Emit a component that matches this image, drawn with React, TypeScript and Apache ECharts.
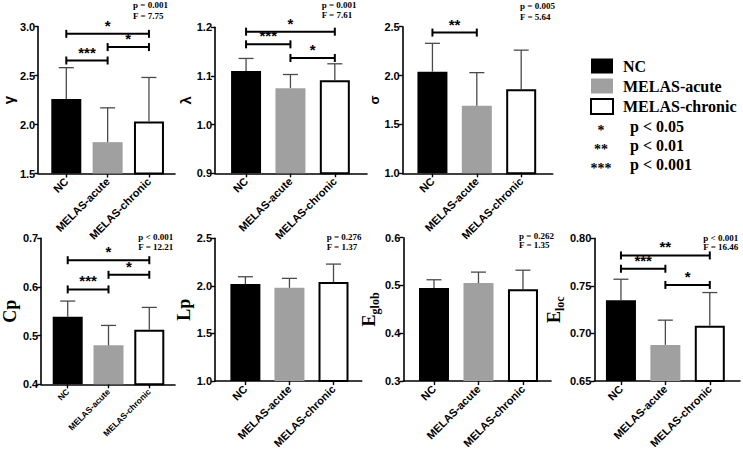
import React, { useEffect, useRef } from 'react';
import * as echarts from 'echarts';

// ---- data ----
const groups = ['NC', 'MELAS-acute', 'MELAS-chronic'];

const gammaMean = [2.26, 1.82, 2.03];
const gammaSD = [0.32, 0.35, 0.45];
const lambdaMean = [1.11, 1.075, 1.091];
const lambdaSD = [0.026, 0.028, 0.034];
const sigmaMean = [2.04, 1.69, 1.86];
const sigmaSD = [0.29, 0.34, 0.4];
const cpMean = [0.539, 0.48, 0.512];
const cpSD = [0.032, 0.041, 0.046];
const lpMean = [2.02, 1.98, 2.04];
const lpSD = [0.076, 0.099, 0.189];
const eglobMean = [0.495, 0.505, 0.492];
const eglobSD = [0.017, 0.023, 0.04];
const elocMean = [0.735, 0.688, 0.708];
const elocSD = [0.022, 0.026, 0.035];

// brackets: [fromGroup, toGroup, yValue, stars]
const gammaSig = [[0, 2, 2.925, '*'], [1, 2, 2.79, '*'], [0, 1, 2.653, '***']];
const lambdaSig = [[0, 2, 1.191, '*'], [0, 1, 1.165, '***'], [1, 2, 1.137, '*']];
const sigmaSig = [[0, 1, 2.44, '**']];
const cpSig = [[0, 2, 0.655, '*'], [1, 2, 0.625, '*'], [0, 1, 0.595, '***']];
const lpSig: any[] = [];
const eglobSig: any[] = [];
const elocSig = [[0, 2, 0.782, '**'], [0, 1, 0.768, '***'], [1, 2, 0.751, '*']];

const yMins = [1.5, 0.9, 1.0, 0.4, 1.0, 0.3, 0.65];
const yMaxs = [3.0, 1.2, 2.5, 0.7, 2.5, 0.6, 0.8];
const ySteps = [0.5, 0.1, 0.5, 0.1, 0.5, 0.1, 0.05];
const yDecimals = [1, 1, 1, 1, 1, 1, 2];

const pTexts = ['p = 0.001', 'p = 0.001', 'p = 0.005', 'p < 0.001', 'p = 0.276', 'p = 0.262', 'p < 0.001'];
const fTexts = ['F = 7.75', 'F = 7.61', 'F = 5.64', 'F = 12.21', 'F = 1.37', 'F = 1.35', 'F = 16.46'];

const sigLegendStars = ['*', '**', '***'];
const sigLegendTexts = ['p < 0.05', 'p < 0.01', 'p < 0.001'];

const means = [gammaMean, lambdaMean, sigmaMean, cpMean, lpMean, eglobMean, elocMean];
const sds = [gammaSD, lambdaSD, sigmaSD, cpSD, lpSD, eglobSD, elocSD];
const sigs = [gammaSig, lambdaSig, sigmaSig, cpSig, lpSig, eglobSig, elocSig];

// ---- layout / style ----
const SANS = '"Liberation Sans", Arial, sans-serif';
const SERIF = '"Liberation Serif", "Times New Roman", serif';

const layout = [
  { left: 28, width: 147, top: 26.5, height: 147, xMin: -0.68, xMax: 2.63, lab: 11, gap: 12, px: 133, py: -1, lh: 11 },
  { left: 215, width: 152, top: 27.3, height: 146, xMin: -0.7, xMax: 2.725, lab: 11, gap: 14, px: 321.7, py: 0, lh: 10 },
  { left: 402.7, width: 150, top: 26.7, height: 146.6, xMin: -0.67, xMax: 2.71, lab: 11, gap: 17, px: 520, py: 0, lh: 11 },
  { left: 29, width: 146, top: 238.3, height: 146, xMin: -0.65, xMax: 2.63, lab: 8.5, gap: 12, px: 138.3, py: 232.5, lh: 9.5 },
  { left: 215, width: 146.7, top: 238.3, height: 146, xMin: -0.69, xMax: 2.64, lab: 11, gap: 13, px: 326.7, py: 232.5, lh: 9.5 },
  { left: 403.3, width: 147.7, top: 237.7, height: 146.6, xMin: -0.69, xMax: 2.63, lab: 11, gap: 16, px: 519, py: 231, lh: 9.5 },
  { left: 594.3, width: 145.7, top: 238.3, height: 146, xMin: -0.6, xMax: 2.68, lab: 11, gap: 22, px: 703.3, py: 233, lh: 9.5 },
];

const yNames = [
  { name: 'γ', style: { fontFamily: SANS, fontWeight: 'bold', fontSize: 15, color: '#000' } },
  { name: 'λ', style: { fontFamily: SANS, fontWeight: 'bold', fontSize: 15, color: '#000' } },
  { name: 'σ', style: { fontFamily: SANS, fontWeight: 'bold', fontSize: 13, color: '#000' } },
  { name: 'Cp', style: { fontFamily: SERIF, fontWeight: 'bold', fontSize: 18, color: '#000' } },
  { name: 'Lp', style: { fontFamily: SERIF, fontWeight: 'bold', fontSize: 18, color: '#000' } },
  { name: '{e|E}{s|glob}', style: null },
  { name: '{e|E}{s|loc}', style: null },
];

const subRich = {
  e: { fontFamily: SERIF, fontWeight: 'bold', fontSize: 18, color: '#000', lineHeight: 24, verticalAlign: 'middle' },
  s: { fontFamily: SERIF, fontWeight: 'bold', fontSize: 12, color: '#000', lineHeight: 12, verticalAlign: 'bottom' },
};

const groupStyles = [
  { color: '#000000', borderColor: '#000000', borderWidth: 0 },
  { color: '#a0a0a0', borderColor: '#a0a0a0', borderWidth: 0 },
  { color: '#ffffff', borderColor: '#000000', borderWidth: 2 },
];

export default function App() {
  const ref = useRef<HTMLDivElement>(null);
  useEffect(() => {
    if (!ref.current) return;
    const chart = echarts.init(ref.current, undefined, { renderer: 'svg' });

    const grid = layout.map((l) => ({ left: l.left, top: l.top, width: l.width, height: l.height }));

    const xAxis = layout.map((l, i) => ({
      gridIndex: i,
      type: 'value',
      min: l.xMin,
      max: l.xMax,
      axisLine: { show: true, onZero: false, lineStyle: { color: '#000', width: 1.6 } },
      axisTick: { show: true, customValues: [0, 1, 2], length: 4, lineStyle: { color: '#000', width: 1.4 } },
      axisLabel: {
        customValues: [0, 1, 2],
        rotate: 45,
        margin: 6,
        formatter: (v: number) => groups[Math.round(v)] ?? '',
        fontFamily: SANS,
        fontWeight: 'bold',
        fontSize: l.lab,
        color: '#000',
      },
      splitLine: { show: false },
    }));

    const yAxis = layout.map((l, i) => ({
      gridIndex: i,
      type: 'value',
      min: yMins[i],
      max: yMaxs[i],
      interval: ySteps[i],
      axisLine: { show: true, onZero: false, lineStyle: { color: '#000', width: 1.6 } },
      axisTick: { show: true, length: 4, lineStyle: { color: '#000', width: 1.4 } },
      axisLabel: {
        margin: 3,
        formatter: (v: number) => v.toFixed(yDecimals[i]),
        fontFamily: SANS,
        fontWeight: 'bold',
        fontSize: 11,
        color: '#000',
      },
      splitLine: { show: false },
      name: yNames[i].name,
      nameLocation: 'middle',
      nameGap: l.gap,
      nameRotate: 90,
      nameTextStyle: yNames[i].style ? yNames[i].style : { rich: subRich },
    }));

    const series: any[] = [];
    layout.forEach((_, i) => {
      groups.forEach((g, gi) => {
        series.push({
          type: 'bar',
          name: g,
          xAxisIndex: i,
          yAxisIndex: i,
          barWidth: 30,
          barGap: '-100%',
          data: [[gi, means[i][gi]]],
          itemStyle: groupStyles[gi],
          emphasis: { disabled: true },
        });
      });
      series.push({
        type: 'custom',
        xAxisIndex: i,
        yAxisIndex: i,
        z: 5,
        data: means[i].map((m, gi) => [gi, m, sds[i][gi]]),
        renderItem: (params: any, api: any) => {
          const x = api.value(0);
          const m = api.value(1);
          const s = api.value(2);
          const p0 = api.coord([x, m]);
          const p1 = api.coord([x, m + s]);
          const st = { stroke: '#4a4a4a', lineWidth: 1.3 };
          return {
            type: 'group',
            children: [
              { type: 'line', shape: { x1: p0[0], y1: p0[1], x2: p1[0], y2: p1[1] }, style: st },
              { type: 'line', shape: { x1: p1[0] - 7.5, y1: p1[1], x2: p1[0] + 7.5, y2: p1[1] }, style: st },
            ],
          };
        },
      });
      if (sigs[i].length) {
        series.push({
          type: 'custom',
          xAxisIndex: i,
          yAxisIndex: i,
          z: 6,
          data: sigs[i].map((b: any) => [b[0], b[1], b[2], b[3]]),
          renderItem: (params: any, api: any) => {
            const b = sigs[i][params.dataIndex] as any[];
            const a = api.coord([b[0], b[2]]);
            const c = api.coord([b[1], b[2]]);
            const st = { stroke: '#000', lineWidth: 2 };
            return {
              type: 'group',
              children: [
                { type: 'line', shape: { x1: a[0], y1: a[1], x2: c[0], y2: c[1] }, style: st },
                { type: 'line', shape: { x1: a[0], y1: a[1] - 4, x2: a[0], y2: a[1] + 4 }, style: st },
                { type: 'line', shape: { x1: c[0], y1: c[1] - 4, x2: c[0], y2: c[1] + 4 }, style: st },
                {
                  type: 'text',
                  x: (a[0] + c[0]) / 2,
                  y: a[1] - 1,
                  style: {
                    text: b[3],
                    fill: '#000',
                    font: `bold 15px ${SANS}`,
                    align: 'center',
                    verticalAlign: 'bottom',
                  },
                },
              ],
            };
          },
        });
      }
    });

    const graphic: any[] = [];
    layout.forEach((l, i) => {
      graphic.push({
        type: 'text',
        x: l.px,
        y: l.py,
        style: {
          text: pTexts[i] + '\n' + fTexts[i],
          fill: '#000',
          font: `bold 9px ${SERIF}`,
          lineHeight: l.lh,
          align: 'left',
          verticalAlign: 'top',
        },
      });
    });
    const legendRows = [126, 145, 164];
    sigLegendStars.forEach((s, k) => {
      graphic.push({
        type: 'text',
        x: 601,
        y: legendRows[k] + 4,
        style: { text: s, fill: '#000', font: `bold 14px ${SERIF}`, align: 'center', verticalAlign: 'middle' },
      });
      graphic.push({
        type: 'text',
        x: 630,
        y: legendRows[k],
        style: { text: sigLegendTexts[k], fill: '#000', font: `bold 16px ${SERIF}`, align: 'left', verticalAlign: 'middle' },
      });
    });

    chart.setOption({
      animation: false,
      backgroundColor: '#ffffff',
      legend: {
        data: groups,
        orient: 'vertical',
        left: 585,
        top: 53,
        itemWidth: 22,
        itemHeight: 15,
        itemGap: 4,
        selectedMode: false,
        icon: 'rect',
        textStyle: { fontFamily: SERIF, fontWeight: 'bold', fontSize: 16, color: '#000', lineHeight: 16, padding: [0, 0, 0, 5] },
      },
      grid,
      xAxis,
      yAxis,
      series,
      graphic,
    });
    return () => chart.dispose();
  }, []);

  return (
    <div
      ref={ref}
      style={{ position: 'fixed', left: 0, top: 0, width: 743, height: 451, background: '#fff' }}
    />
  );
}
